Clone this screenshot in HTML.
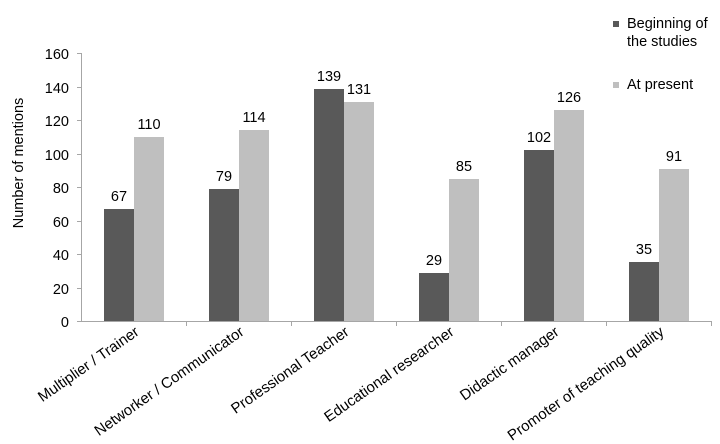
<!DOCTYPE html>
<html><head><meta charset="utf-8"><style>body{margin:0;background:#fff}svg{display:block}text{font-family:"Liberation Sans",sans-serif;fill:#000}</style></head>
<body>
<svg width="720" height="444" viewBox="0 0 720 444" xmlns="http://www.w3.org/2000/svg">
<g stroke="#a6a6a6" stroke-width="1">
<line x1="81.5" y1="53" x2="81.5" y2="321"/>
<line x1="77" y1="321.5" x2="712" y2="321.5"/>
<line x1="77" y1="53.5" x2="81" y2="53.5"/><line x1="77" y1="87.5" x2="81" y2="87.5"/><line x1="77" y1="120.5" x2="81" y2="120.5"/><line x1="77" y1="154.5" x2="81" y2="154.5"/><line x1="77" y1="187.5" x2="81" y2="187.5"/><line x1="77" y1="221.5" x2="81" y2="221.5"/><line x1="77" y1="254.5" x2="81" y2="254.5"/><line x1="77" y1="288.5" x2="81" y2="288.5"/>
<line x1="186.5" y1="321" x2="186.5" y2="326"/><line x1="291.5" y1="321" x2="291.5" y2="326"/><line x1="396.5" y1="321" x2="396.5" y2="326"/><line x1="501.5" y1="321" x2="501.5" y2="326"/><line x1="606.5" y1="321" x2="606.5" y2="326"/><line x1="711.5" y1="321" x2="711.5" y2="326"/>
</g>
<g font-size="14.5" text-anchor="end">
<text x="69" y="59">160</text><text x="69" y="93">140</text><text x="69" y="126">120</text><text x="69" y="160">100</text><text x="69" y="193">80</text><text x="69" y="227">60</text><text x="69" y="260">40</text><text x="69" y="294">20</text><text x="69" y="327">0</text>
</g>
<text font-size="14.5" transform="translate(23,163) rotate(-90)" text-anchor="middle">Number of mentions</text>
<g>
<rect x="104" y="209" width="30" height="112" fill="#595959"/><rect x="134" y="137" width="30" height="184" fill="#bfbfbf"/>
<rect x="209" y="189" width="30" height="132" fill="#595959"/><rect x="239" y="130" width="30" height="191" fill="#bfbfbf"/>
<rect x="314" y="89" width="30" height="232" fill="#595959"/><rect x="344" y="102" width="30" height="219" fill="#bfbfbf"/>
<rect x="419" y="273" width="30" height="48" fill="#595959"/><rect x="449" y="179" width="30" height="142" fill="#bfbfbf"/>
<rect x="524" y="150" width="30" height="171" fill="#595959"/><rect x="554" y="110" width="30" height="211" fill="#bfbfbf"/>
<rect x="629" y="262" width="30" height="59" fill="#595959"/><rect x="659" y="169" width="30" height="152" fill="#bfbfbf"/>
</g>
<g font-size="14.5" text-anchor="middle">
<text x="119" y="201">67</text><text x="149" y="129">110</text>
<text x="224" y="181">79</text><text x="254" y="122">114</text>
<text x="329" y="81">139</text><text x="359" y="94">131</text>
<text x="434" y="265">29</text><text x="464" y="171">85</text>
<text x="539" y="142">102</text><text x="569" y="102">126</text>
<text x="644" y="254">35</text><text x="674" y="161">91</text>
</g>
<g font-size="15" text-anchor="end">
<text transform="translate(140,334) rotate(-35)">Multiplier /  Trainer</text>
<text transform="translate(245,334) rotate(-35)">Networker / Communicator</text>
<text transform="translate(350,334) rotate(-35)">Professional Teacher</text>
<text transform="translate(455,334) rotate(-35)">Educational researcher</text>
<text transform="translate(560,334) rotate(-35)">Didactic manager</text>
<text transform="translate(665,334) rotate(-35)">Promoter of teaching quality</text>
</g>
<rect x="613" y="21" width="6" height="6" fill="#595959"/>
<text x="627" y="28" font-size="14.5">Beginning of</text>
<text x="627" y="46" font-size="14.5">the studies</text>
<rect x="613" y="82" width="6" height="6" fill="#bfbfbf"/>
<text x="627" y="89" font-size="14.5">At present</text>
</svg>
</body></html>
